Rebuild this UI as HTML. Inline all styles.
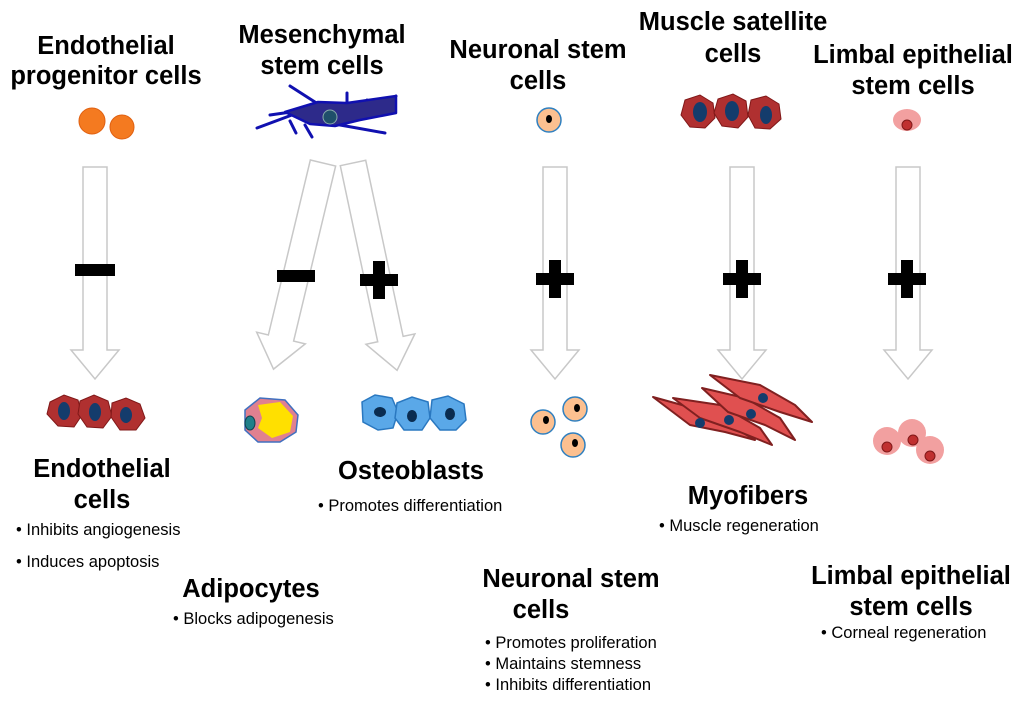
<!DOCTYPE html>
<html><head><style>
body{margin:0;background:#fff;}
svg text{font-family:"Liberation Sans",sans-serif;}
.t{font-weight:bold;font-size:25.5px;text-anchor:middle;fill:#000}
.b{font-size:16.5px;fill:#000}
</style></head><body>
<svg width="1024" height="704" viewBox="0 0 1024 704" xmlns="http://www.w3.org/2000/svg">
<defs>
<g id="arr"><polygon points="-12,0 12,0 12,183 24,183 0,212 -24,183 -12,183" fill="#fff" stroke="#c8c8c8" stroke-width="1.5"/></g>
<g id="plus"><rect x="-19" y="-6" width="38" height="12" fill="#000"/><rect x="-6" y="-19" width="12" height="38" fill="#000"/></g>
</defs>
<!-- titles -->
<text class="t" x="106" y="54">Endothelial</text>
<text class="t" x="106" y="84">progenitor cells</text>
<text class="t" x="322" y="43">Mesenchymal</text>
<text class="t" x="322" y="74">stem cells</text>
<text class="t" x="538" y="58">Neuronal stem</text>
<text class="t" x="538" y="89">cells</text>
<text class="t" x="733" y="30">Muscle satellite</text>
<text class="t" x="733" y="62">cells</text>
<text class="t" x="913" y="63">Limbal epithelial</text>
<text class="t" x="913" y="94">stem cells</text>

<!-- top cells -->
<circle cx="92" cy="121" r="13" fill="#f47a20" stroke="#e06010"/>
<circle cx="122" cy="127" r="12" fill="#f47a20" stroke="#e06010"/>
<g stroke="#1010b0" stroke-width="3" stroke-linecap="round" fill="none">
<path d="M257,128 L300,112"/><path d="M290,86 L318,104"/><path d="M270,115 L305,110"/>
<path d="M290,121 L296,133"/><path d="M305,125 L312,137"/><path d="M340,125 L385,133"/>
<path d="M347,104 L347,93"/><path d="M365,105 L367,100"/><path d="M380,105 L396,96"/>
</g>
<path d="M285,112 L318,102 L347,103 L396,96 L396,113 L360,120 L335,126 L310,124 Z" fill="#2d2a8a" stroke="#1010b0" stroke-width="2.5" stroke-linejoin="round"/>
<circle cx="330" cy="117" r="7" fill="#1f4f6a" stroke="#8aa" />
<circle cx="549" cy="120" r="12" fill="#fcc090" stroke="#3080c0" stroke-width="1.5"/>
<ellipse cx="549" cy="119" rx="3" ry="4" fill="#000"/>
<g fill="#b03030" stroke="#801818">
<polygon points="685,100 700,95 713,103 715,118 705,128 690,127 681,115"/>
<polygon points="718,99 733,94 746,101 748,117 738,128 722,126 714,113"/>
<polygon points="751,100 766,96 779,104 781,119 770,129 755,128 748,115"/>
</g>
<g fill="#143c6c"><ellipse cx="700" cy="112" rx="7" ry="10"/><ellipse cx="732" cy="111" rx="7" ry="10"/><ellipse cx="766" cy="115" rx="6" ry="9"/></g>
<ellipse cx="907" cy="120" rx="14" ry="11" fill="#f2a0a0"/>
<circle cx="907" cy="125" r="5" fill="#c03030" stroke="#801818"/>

<!-- arrows -->
<use href="#arr" x="95" y="167"/>
<use href="#arr" x="555" y="167"/>
<use href="#arr" x="742" y="167"/>
<use href="#arr" x="908" y="167"/>
<g transform="translate(323,163) rotate(13.5)"><polygon points="-13,0 13,0 13,180 25,180 0,212 -25,180 -13,180" fill="#fff" stroke="#c8c8c8" stroke-width="1.5"/></g>
<g transform="translate(353,163) rotate(-12)"><polygon points="-13,0 13,0 13,180 25,180 0,212 -25,180 -13,180" fill="#fff" stroke="#c8c8c8" stroke-width="1.5"/></g>

<!-- signs -->
<rect x="75" y="264" width="40" height="12" fill="#000"/>
<rect x="277" y="270" width="38" height="12" fill="#000"/>
<use href="#plus" x="379" y="280"/>
<use href="#plus" x="555" y="279"/>
<use href="#plus" x="742" y="279"/>
<use href="#plus" x="907" y="279"/>

<!-- bottom cells -->
<g fill="#b03030" stroke="#801818">
<polygon points="50,402 64,395 78,400 82,415 74,427 58,426 47,414"/>
<polygon points="80,401 94,395 108,401 112,416 103,428 87,427 78,414"/>
<polygon points="112,403 126,398 140,404 145,418 136,430 120,430 111,417"/>
</g>
<g fill="#143c6c"><ellipse cx="64" cy="411" rx="6" ry="9"/><ellipse cx="95" cy="412" rx="6" ry="9"/><ellipse cx="126" cy="415" rx="6" ry="8"/></g>
<path d="M245,410 L260,398 L285,400 L298,415 L296,432 L280,442 L258,442 L245,430 Z" fill="#e08090" stroke="#4070c0" stroke-width="1.5"/>
<path d="M258,405 L280,402 L293,416 L290,432 L272,438 L258,428 L262,418 Z" fill="#ffe000"/>
<ellipse cx="250" cy="423" rx="5" ry="7" fill="#20808a" stroke="#104050"/>
<g fill="#5aa8e8" stroke="#2a78c0" stroke-width="1.5">
<path d="M362,402 L375,395 L392,398 L398,412 L393,428 L378,430 L363,422 Z"/>
<path d="M397,403 L412,397 L428,402 L430,418 L422,430 L404,430 L395,418 Z"/>
<path d="M432,400 L448,396 L464,404 L466,420 L456,430 L440,430 L430,418 Z"/>
</g>
<g fill="#0a2c50"><ellipse cx="380" cy="412" rx="6" ry="5"/><ellipse cx="412" cy="416" rx="5" ry="6"/><ellipse cx="450" cy="414" rx="5" ry="6"/></g>
<g fill="#fcc090" stroke="#3080c0" stroke-width="1.5">
<circle cx="543" cy="422" r="12"/><circle cx="575" cy="409" r="12"/><circle cx="573" cy="445" r="12"/></g>
<g fill="#000"><ellipse cx="546" cy="420" rx="3" ry="4"/><ellipse cx="577" cy="408" rx="3" ry="4"/><ellipse cx="575" cy="443" rx="3" ry="4"/></g>
<g fill="#e05050" stroke="#802020" stroke-width="2" stroke-linejoin="round">
<path d="M653,397 L700,410 L730,425 L755,440 L725,432 L690,425 Z"/>
<path d="M673,398 L720,405 L760,428 L772,445 L740,432 L700,418 Z"/>
<path d="M702,388 L745,398 L780,418 L795,440 L765,425 L728,412 Z"/>
<path d="M710,375 L760,385 L795,405 L812,422 L780,412 L740,398 Z"/>
</g>
<g fill="#143c6c"><circle cx="700" cy="423" r="5"/><circle cx="729" cy="420" r="5"/><circle cx="751" cy="414" r="5"/><circle cx="763" cy="398" r="5"/></g>
<g fill="#f2a0a0"><circle cx="887" cy="441" r="14"/><circle cx="912" cy="433" r="14"/><circle cx="930" cy="450" r="14"/></g>
<g fill="#c03030" stroke="#801818"><circle cx="887" cy="447" r="5"/><circle cx="913" cy="440" r="5"/><circle cx="930" cy="456" r="5"/></g>

<!-- bottom labels -->
<text class="t" x="102" y="477">Endothelial</text>
<text class="t" x="102" y="508">cells</text>
<text class="b" x="16" y="535">• Inhibits angiogenesis</text>
<text class="b" x="16" y="567">• Induces apoptosis</text>
<text class="t" x="411" y="479">Osteoblasts</text>
<text class="b" x="318" y="511">• Promotes differentiation</text>
<text class="t" x="251" y="597">Adipocytes</text>
<text class="b" x="173" y="624">• Blocks adipogenesis</text>
<text class="t" x="748" y="504">Myofibers</text>
<text class="b" x="659" y="531">• Muscle regeneration</text>
<text class="t" x="571" y="587">Neuronal stem</text>
<text class="t" x="541" y="618">cells</text>
<text class="b" x="485" y="648">• Promotes proliferation</text>
<text class="b" x="485" y="669">• Maintains stemness</text>
<text class="b" x="485" y="690">• Inhibits differentiation</text>
<text class="t" x="911" y="584">Limbal epithelial</text>
<text class="t" x="911" y="615">stem cells</text>
<text class="b" x="821" y="638">• Corneal regeneration</text>
</svg>
</body></html>
